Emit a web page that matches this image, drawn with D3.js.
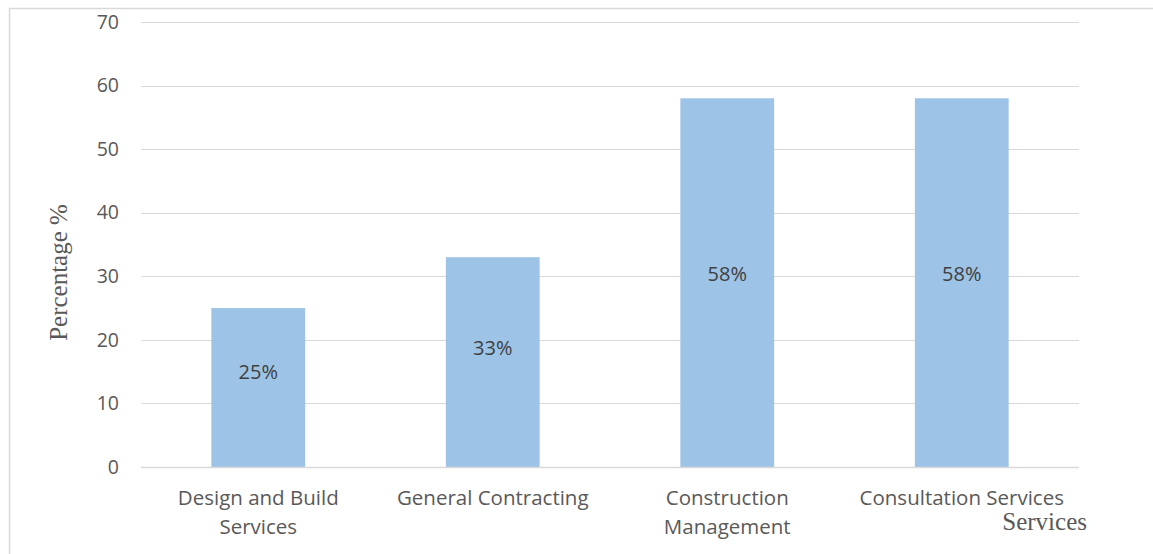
<!DOCTYPE html>
<html>
<head>
<meta charset="utf-8">
<script src="https://cdn.jsdelivr.net/npm/d3@7"></script>
<style>
  html, body { margin: 0; padding: 0; background: #fff; }
  svg { display: block; }
</style>
</head>
<body>
<svg id="chart" width="1153" height="554"></svg>
<script>
// Share of firms offering each service type
const categories = [
  ["Design and Build", "Services"],
  ["General Contracting"],
  ["Construction", "Management"],
  ["Consultation Services"]
];
const values = [25, 33, 58, 58];
const yTicks = [0, 10, 20, 30, 40, 50, 60, 70];
const yTitle = "Percentage %";
const xTitle = "Services";

const svg = d3.select("#chart");
const W = 1153, H = 554;
const m = { left: 141, right: 74, top: 22, bottom: 87 };
const sansFont = "Open Sans, Noto Sans, sans-serif";
const serifFont = "Liberation Serif, DejaVu Serif, serif";
const textColor = "#595959";
const gridColor = "#d9d9d9";

// outer frame
svg.append("path")
  .attr("d", `M9.5,${H} V8.5 H${W}`)
  .attr("fill", "none")
  .attr("stroke", gridColor)
  .attr("stroke-width", 1.5);

const x = d3.scaleBand()
  .domain(d3.range(categories.length))
  .range([m.left, W - m.right])
  .paddingInner(0.6)
  .paddingOuter(0.3);

const y = d3.scaleLinear()
  .domain([0, 70])
  .range([H - m.bottom, m.top]);

// horizontal gridlines
svg.append("g")
  .selectAll("line")
  .data(yTicks)
  .join("line")
  .attr("x1", m.left)
  .attr("x2", W - m.right)
  .attr("y1", d => Math.round(y(d)) + 0.5)
  .attr("y2", d => Math.round(y(d)) + 0.5)
  .attr("stroke", gridColor)
  .attr("stroke-width", 1);

// y axis tick labels
const yAxis = d3.axisLeft(y).tickValues(yTicks).tickSize(0).tickPadding(0);
const yg = svg.append("g")
  .attr("transform", `translate(${m.left - 22},0)`)
  .call(yAxis);
yg.select(".domain").remove();
yg.selectAll("text")
  .attr("font-family", sansFont)
  .attr("font-size", 19.5)
  .attr("fill", textColor);

// bars
svg.append("g")
  .selectAll("rect")
  .data(values)
  .join("rect")
  .attr("x", (d, i) => x(i))
  .attr("width", x.bandwidth())
  .attr("y", d => y(d))
  .attr("height", d => y(0) - y(d))
  .attr("fill", "#9dc3e6");

// baseline
svg.append("line")
  .attr("x1", m.left).attr("x2", W - m.right)
  .attr("y1", Math.round(y(0)) + 0.5).attr("y2", Math.round(y(0)) + 0.5)
  .attr("stroke", gridColor).attr("stroke-width", 1.5);

// value labels, set a little above the middle of each bar
svg.append("g")
  .selectAll("text")
  .data(values)
  .join("text")
  .attr("x", (d, i) => x(i) + x.bandwidth() / 2)
  .attr("y", d => y(d * 0.467) - 21)
  .attr("dy", "0.35em")
  .attr("text-anchor", "middle")
  .attr("font-family", sansFont)
  .attr("font-size", 20)
  .attr("fill", "#404040")
  .text(d => d + "%");

// category labels
const cat = svg.append("g")
  .selectAll("text")
  .data(categories)
  .join("text")
  .attr("x", (d, i) => x(i) + x.bandwidth() / 2)
  .attr("y", y(0) + 38)
  .attr("text-anchor", "middle")
  .attr("font-family", sansFont)
  .attr("font-size", 20.5)
  .attr("fill", textColor);
cat.selectAll("tspan")
  .data(d => d)
  .join("tspan")
  .attr("x", function () { return d3.select(this.parentNode).attr("x"); })
  .attr("dy", (d, i) => i === 0 ? 0 : 29)
  .text(d => d);

// axis titles
svg.append("text")
  .attr("transform", `translate(67,${(m.top + H - m.bottom) / 2 + 28}) rotate(-90)`)
  .attr("text-anchor", "middle")
  .attr("font-family", serifFont)
  .attr("font-size", 25)
  .attr("fill", textColor)
  .text(yTitle);

svg.append("text")
  .attr("x", 1087)
  .attr("y", 530)
  .attr("text-anchor", "end")
  .attr("font-family", serifFont)
  .attr("font-size", 25)
  .attr("fill", textColor)
  .text(xTitle);
</script>
</body>
</html>
